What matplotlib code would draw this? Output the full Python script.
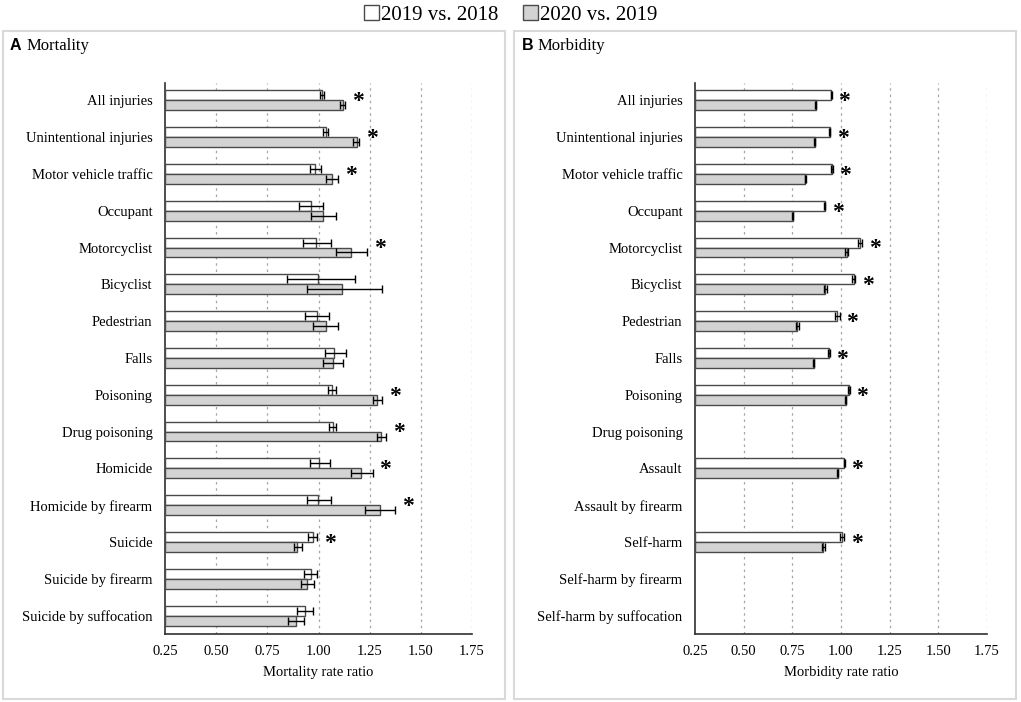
import numpy as np
import matplotlib
matplotlib.use('Agg')
import matplotlib.pyplot as plt
from matplotlib.patches import Patch, Rectangle

plt.rcParams['font.family'] = ['Liberation Serif', 'DejaVu Serif']

## Data ##
mort_cats = ['All injuries', 'Unintentional injuries', 'Motor vehicle traffic', 'Occupant',
             'Motorcyclist', 'Bicyclist', 'Pedestrian', 'Falls', 'Poisoning', 'Drug poisoning',
             'Homicide', 'Homicide by firearm', 'Suicide', 'Suicide by firearm',
             'Suicide by suffocation']
# 2019 vs. 2018
mort_19 = [1.015, 1.035, 0.983, 0.963, 0.989, 0.999, 0.991, 1.077, 1.064, 1.069,
           1.004, 0.999, 0.971, 0.961, 0.932]
mort_19_lo = [1.005, 1.020, 0.957, 0.906, 0.922, 0.846, 0.935, 1.032, 1.046, 1.050,
              0.957, 0.942, 0.948, 0.929, 0.893]
mort_19_hi = [1.025, 1.045, 1.011, 1.022, 1.059, 1.178, 1.053, 1.133, 1.084, 1.086,
              1.055, 1.061, 0.994, 0.992, 0.975]
# 2020 vs. 2019
mort_20 = [1.118, 1.186, 1.066, 1.024, 1.160, 1.113, 1.036, 1.069, 1.287, 1.304,
           1.209, 1.300, 0.896, 0.945, 0.888]
mort_20_lo = [1.105, 1.170, 1.036, 0.963, 1.085, 0.945, 0.975, 1.020, 1.268, 1.284,
              1.157, 1.229, 0.879, 0.914, 0.851]
mort_20_hi = [1.130, 1.200, 1.097, 1.085, 1.238, 1.309, 1.097, 1.118, 1.312, 1.330,
              1.264, 1.375, 0.921, 0.979, 0.931]
mort_sig = [1, 1, 1, 0, 1, 0, 0, 0, 1, 1, 1, 1, 1, 0, 0]

morb_cats = ['All injuries', 'Unintentional injuries', 'Motor vehicle traffic', 'Occupant',
             'Motorcyclist', 'Bicyclist', 'Pedestrian', 'Falls', 'Poisoning', 'Drug poisoning',
             'Assault', 'Assault by firearm', 'Self-harm', 'Self-harm by firearm',
             'Self-harm by suffocation']
nan = np.nan
morb_19 = [0.950, 0.943, 0.954, 0.916, 1.098, 1.065, 0.981, 0.938, 1.041, nan,
           1.017, nan, 1.007, nan, nan]
morb_19_err = [0.003, 0.003, 0.003, 0.003, 0.010, 0.007, 0.012, 0.003, 0.003, nan,
               0.003, nan, 0.010, nan, nan]
morb_20 = [0.871, 0.866, 0.817, 0.752, 1.029, 0.919, 0.776, 0.860, 1.024, nan,
           0.983, nan, 0.909, nan, nan]
morb_20_err = [0.003, 0.003, 0.003, 0.003, 0.008, 0.007, 0.006, 0.003, 0.003, nan,
               0.003, nan, 0.008, nan, nan]
morb_sig = [1, 1, 1, 1, 1, 1, 1, 1, 1, 0, 1, 0, 1, 0, 0]

ticks = [0.25, 0.50, 0.75, 1.00, 1.25, 1.50, 1.75]
base = 0.25
gray = '#d3d3d3'
edge = '#4a4a4a'

fig = plt.figure(figsize=(10.21, 7.02), dpi=100)

# panel frames
for x0 in (3 / 1021, 514 / 1021):
    fig.patches.append(Rectangle((x0, 3 / 702), 502 / 1021, 668 / 702, transform=fig.transFigure,
                                 fill=False, edgecolor='#d9d9d9', lw=1.5, zorder=0))

def panel(rect, cats, v19, lo19, hi19, v20, lo20, hi20, sig, xlabel):
    ax = fig.add_axes(rect)
    n = len(cats)
    y = np.arange(n)
    h = 0.27
    v19 = np.array(v19); v20 = np.array(v20)
    ax.barh(y - h / 2, v19 - base, left=base, height=h, color='white', edgecolor=edge, lw=1.0, zorder=3)
    ax.barh(y + h / 2, v20 - base, left=base, height=h, color=gray, edgecolor=edge, lw=1.0, zorder=3)
    e19 = [v19 - np.array(lo19), np.array(hi19) - v19]
    e20 = [v20 - np.array(lo20), np.array(hi20) - v20]
    ax.errorbar(v19, y - h / 2, xerr=e19, fmt='none', ecolor='black', elinewidth=1, capsize=3, capthick=1, zorder=4)
    ax.errorbar(v20, y + h / 2, xerr=e20, fmt='none', ecolor='black', elinewidth=1, capsize=3, capthick=1, zorder=4)
    for i in range(n):
        if sig[i]:
            xm = np.nanmax([hi19[i], hi20[i]])
            ax.annotate('*', (xm, i), xytext=(9, -1), textcoords='offset points',
                        ha='center', va='center', fontsize=17, fontweight='bold')
    ax.set_xlim(0.25, 1.75)
    ax.set_ylim(n - 0.5, -0.47)
    ax.set_xticks(ticks)
    ax.set_xticklabels(['%.2f' % t for t in ticks], fontsize=10.5)
    ax.set_yticks(y)
    ax.set_yticklabels(cats, fontsize=10.5)
    ax.tick_params(length=0, pad=9)
    ax.tick_params(axis='x', pad=8)
    for t in ticks[1:]:
        ax.axvline(t, color='#a6a6a6', ls=(0, (2, 3)), lw=0.9, zorder=1)
    for s in ('top', 'right'):
        ax.spines[s].set_visible(False)
    ax.spines['left'].set_color('#303030')
    ax.spines['bottom'].set_color('#303030')
    ax.spines['left'].set_linewidth(1.2)
    ax.spines['bottom'].set_linewidth(1.2)
    ax.set_xlabel(xlabel, fontsize=10.5, labelpad=6)
    return ax

morb_19_lo = np.array(morb_19) - np.array(morb_19_err)
morb_19_hi = np.array(morb_19) + np.array(morb_19_err)
morb_20_lo = np.array(morb_20) - np.array(morb_20_err)
morb_20_hi = np.array(morb_20) + np.array(morb_20_err)

panel([165 / 1021, 1 - 634 / 702, 307 / 1021, 551 / 702], mort_cats, mort_19, mort_19_lo, mort_19_hi,
      mort_20, mort_20_lo, mort_20_hi, mort_sig, 'Mortality rate ratio')
panel([695 / 1021, 1 - 634 / 702, 292 / 1021, 551 / 702], morb_cats, morb_19, morb_19_lo, morb_19_hi,
      morb_20, morb_20_lo, morb_20_hi, morb_sig, 'Morbidity rate ratio')

# panel titles
fig.text(10 / 1021, 1 - 46 / 702, 'A', family='Liberation Sans', fontweight='bold', fontsize=11.5, va='center')
fig.text(27 / 1021, 1 - 46 / 702, 'Mortality', fontsize=12, va='center')
fig.text(522 / 1021, 1 - 46 / 702, 'B', family='Liberation Sans', fontweight='bold', fontsize=11.5, va='center')
fig.text(538 / 1021, 1 - 46 / 702, 'Morbidity', fontsize=12, va='center')

handles = [Patch(facecolor='white', edgecolor=edge, lw=1), Patch(facecolor=gray, edgecolor=edge, lw=1)]
fig.legend(handles, ['2019 vs. 2018', '2020 vs. 2019'], loc='center', bbox_to_anchor=(0.5, 1 - 15 / 702),
           ncol=2, frameon=False, fontsize=15, handlelength=0.7, handleheight=0.7, handletextpad=0.1,
           columnspacing=1.2)

fig.savefig('out.png', dpi=100)
